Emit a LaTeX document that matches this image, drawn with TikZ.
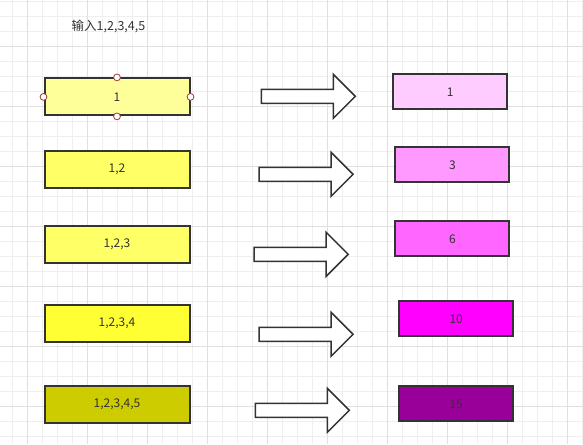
\documentclass[tikz,border=0pt]{standalone}
\usepackage{fontspec}
\setmainfont{Noto Sans CJK SC}
\usepackage{tikz}
\usetikzlibrary{positioning}
\definecolor{gridminor}{HTML}{EFEFEF}
\definecolor{gridmajor}{HTML}{E0E0E0}
\definecolor{boxline}{HTML}{333333}
\definecolor{handlered}{HTML}{A33B3B}
\definecolor{sumA}{HTML}{FFFF99}
\definecolor{sumB}{HTML}{FFFF66}
\definecolor{sumC}{HTML}{FFFF66}
\definecolor{sumD}{HTML}{FFFF33}
\definecolor{sumE}{HTML}{CCCC00}
\definecolor{resA}{HTML}{FFCCFF}
\definecolor{resB}{HTML}{FF99FF}
\definecolor{resC}{HTML}{FF66FF}
\definecolor{resD}{HTML}{FF00FF}
\definecolor{resE}{HTML}{990099}

\begin{document}
\begin{tikzpicture}[x=1pt,y=-1pt,
 inbox/.style={draw=boxline,line width=2pt,minimum width=145pt,minimum height=37pt,
 text=boxline,font=\fontsize{12pt}{14pt}\selectfont},
 outbox/.style={draw=boxline,line width=2pt,minimum width=114pt,minimum height=35pt,
 text=boxline,font=\fontsize{12pt}{14pt}\selectfont},
 blockarrow/.style={draw=boxline,line width=1.5pt,fill=white,line join=miter},
 handle/.style={draw=handlered,fill=white,line width=0.8pt},
 title/.style={text=boxline,font=\fontsize{12.5pt}{14pt}\selectfont}]
\useasboundingbox[fill=white] (0,0) rectangle (583,444);
% grid
\foreach \k in {0,...,38} {
 \draw[gridminor,line width=0.8pt] ({12.6+15*\k},0) -- ({12.6+15*\k},444);
}
\foreach \k in {0,...,29} {
 \draw[gridminor,line width=0.8pt] (0,{1.7+15*\k}) -- (583,{1.7+15*\k});
}
\foreach \k in {0,...,9} {
 \draw[gridmajor,line width=0.8pt] ({27.6+60*\k},0) -- ({27.6+60*\k},444);
}
\foreach \k in {0,...,6} {
 \draw[gridmajor,line width=0.8pt] (0,{46.7+60*\k}) -- (583,{46.7+60*\k});
}
\node[title] (ttl) at (108.5,26.5) {输入1,2,3,4,5};
% partial sums
\foreach \i/\y/\c/\t in {1/96.9/sumA/{1},2/169.2/sumB/{1,2},3/244.2/sumC/{1,2,3},
 4/323.2/sumD/{1,2,3,4},5/404.2/sumE/{1,2,3,4,5}} {
 \node[inbox,fill=\c] (in\i) at (117,\y) {\t};
}
\foreach \a in {north,south,east,west} {
 \draw[handle] (in1.\a) circle (3.4pt);
}
% results
\foreach \i/\x/\y/\c/\t in {1/450.2/91.9/resA/1,2/452.4/164.9/resB/3,3/452.4/238.9/resC/6,
 4/456.2/318.9/resD/10,5/456.2/403.9/resE/15} {
 \node[outbox,fill=\c] (out\i) at (\x,\y) {\t};
}
% block arrows
\foreach \i/\x/\y in {1/261.3/96.3,2/259.1/174.3,3/254.2/254.3,4/259.1/334.3,5/255.3/410.3} {
 \coordinate (ar\i) at (\x,\y);
 \draw[blockarrow] (ar\i) ++(0,-7) -- ++(72,0) -- ++(0,-15) -- ++(22,22)
  -- ++(-22,22) -- ++(0,-15) -- ++(-72,0) -- cycle;
}
\end{tikzpicture}
\end{document}
